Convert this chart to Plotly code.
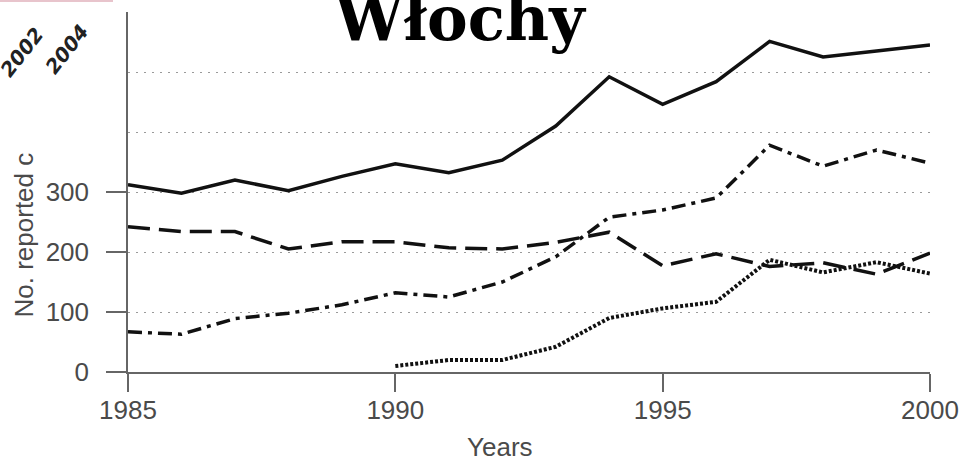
import plotly.graph_objects as go

years = list(range(1985, 2001))
series_solid = [312, 298, 320, 302, 326, 347, 332, 353, 410, 492, 446, 484, 551, 525, 535, 545]
series_dashed = [242, 234, 234, 205, 217, 217, 207, 205, 216, 233, 177, 197, 176, 182, 163, 198]
series_dashdot = [67, 63, 89, 98, 112, 132, 125, 150, 192, 258, 270, 290, 378, 343, 370, 348]
years_dotted = list(range(1990, 2001))
series_dotted = [10, 20, 20, 42, 90, 106, 117, 187, 166, 183, 164]

x_ticks = [1985, 1990, 1995, 2000]
y_ticks = [0, 100, 200, 300]
y_minor_grid = [400, 500, 600]

W, H = 965, 465
L, R, T, B = 128, 35, 12, 93
pw, ph = W - L - R, H - T - B

def px(xp):
    return (xp - L) / pw

def py(yp):
    return (H - B - yp) / ph

line_col = "#111111"
fig = go.Figure()
fig.add_trace(go.Scatter(x=years, y=series_solid, mode="lines",
                         line=dict(color=line_col, width=3.5), cliponaxis=False))
fig.add_trace(go.Scatter(x=years, y=series_dashed, mode="lines",
                         line=dict(color=line_col, width=3.5, dash="22px,9px"), cliponaxis=False))
fig.add_trace(go.Scatter(x=years, y=series_dashdot, mode="lines",
                         line=dict(color=line_col, width=3.5, dash="14px,6px,4px,6px"), cliponaxis=False))
fig.add_trace(go.Scatter(x=years_dotted, y=series_dotted, mode="lines",
                         line=dict(color=line_col, width=4, dash="3px,2px"), cliponaxis=False))

axis_font = dict(family="Liberation Sans, Arial, sans-serif", size=26, color="#4a4a4a")
grid_col = "#9a9a9a"

fig.update_layout(
    width=W, height=H,
    margin=dict(l=L, r=R, t=T, b=B, autoexpand=False),
    paper_bgcolor="white", plot_bgcolor="white",
    showlegend=False,
    xaxis=dict(range=[1985, 2000], tickvals=x_ticks, ticks="outside", ticklen=18,
               tickcolor="#666666", tickwidth=1.5, showline=True, linecolor="#666666",
               linewidth=1.5, showgrid=False, zeroline=False, tickfont=axis_font,
               ticklabelstandoff=-4, automargin=False),
    yaxis=dict(range=[0, 600], tickvals=y_ticks, ticks="outside", ticklen=20,
               tickcolor="#666666", tickwidth=1.5, showline=True, linecolor="#666666",
               linewidth=1.5, showgrid=True, gridcolor=grid_col, griddash="2px,6px",
               gridwidth=1, zeroline=False, tickfont=axis_font, ticklabelstandoff=12,
               automargin=False,
               minor=dict(tickvals=y_minor_grid, showgrid=True, gridcolor=grid_col,
                          griddash="2px,6px", gridwidth=1, ticks="")),
    shapes=[
        dict(type="rect", xref="paper", yref="paper", x0=px(216), x1=1.1, y0=py(22), y1=py(-5),
             fillcolor="white", line=dict(width=0), layer="above"),
        dict(type="line", xref="paper", yref="paper", x0=px(0), x1=px(113), y0=py(1), y1=py(1),
             line=dict(color="#e8c4cc", width=2)),
    ],
    annotations=[
        dict(text="<b>Włochy</b>", xref="paper", yref="paper", x=px(460), y=py(-19),
             xanchor="center", yanchor="top", showarrow=False,
             font=dict(family="DejaVu Serif, serif", size=61, color="black")),
        dict(text="Years", xref="paper", yref="paper", x=px(500), y=py(447),
             xanchor="center", yanchor="middle", showarrow=False, font=axis_font),
        dict(text="No. reported c", xref="paper", yref="paper", x=px(23), y=py(320),
             xanchor="center", yanchor="bottom", textangle=-90, showarrow=False, font=axis_font),
        dict(text="<b><i>2002</i></b>", xref="paper", yref="paper", x=px(22), y=py(52),
             xanchor="center", yanchor="middle", textangle=-52, showarrow=False,
             font=dict(family="DejaVu Sans, sans-serif", size=20, color="#222222")),
        dict(text="<b><i>2004</i></b>", xref="paper", yref="paper", x=px(67), y=py(49),
             xanchor="center", yanchor="middle", textangle=-52, showarrow=False,
             font=dict(family="DejaVu Sans, sans-serif", size=20, color="#222222")),
    ],
)

fig.write_html("out.html", config={"displayModeBar": False},
               post_script="document.body.style.margin='0';document.body.style.overflow='hidden';")
